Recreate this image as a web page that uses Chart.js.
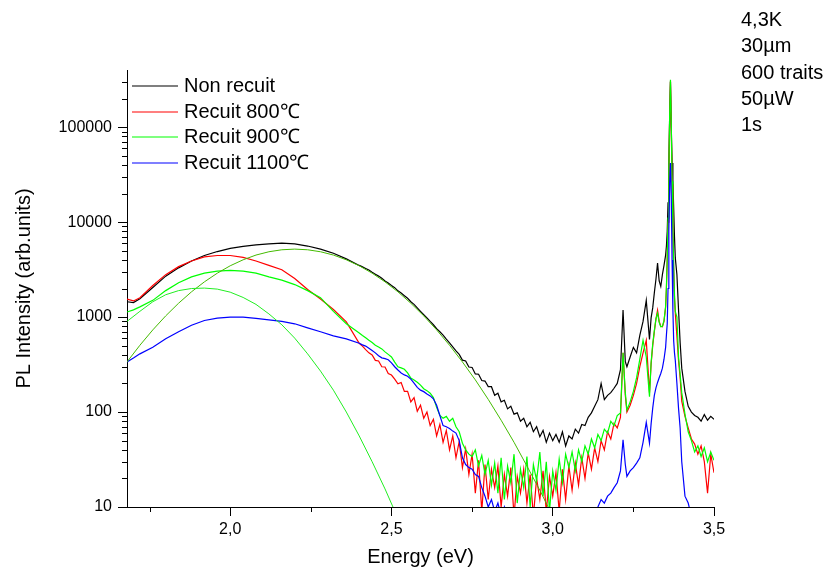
<!DOCTYPE html>
<html>
<head>
<meta charset="utf-8">
<title>PL spectra</title>
<script src="https://cdn.jsdelivr.net/npm/chart.js@4.4.1/dist/chart.umd.min.js"></script>
<style>
  html, body { margin: 0; padding: 0; background: #fff; }
  #wrap { width: 831px; height: 571px; position: relative; }
</style>
</head>
<body>
<div id="wrap"><canvas id="plChart"></canvas></div>
<script>
// photon energy grid (eV), shared by the four measured spectra
const energy = [
  1.68, 1.70, 1.72, 1.76, 1.80, 1.84, 1.88, 1.92, 1.96, 2.00,
  2.04, 2.08, 2.12, 2.16, 2.20, 2.24, 2.28, 2.32, 2.36, 2.40,
  2.41, 2.42, 2.43, 2.44, 2.45, 2.46, 2.47, 2.48, 2.49, 2.50,
  2.51, 2.52, 2.53, 2.54, 2.55, 2.56, 2.57, 2.58, 2.59, 2.60,
  2.61, 2.62, 2.63, 2.64, 2.65, 2.66, 2.67, 2.68, 2.69, 2.70,
  2.71, 2.72, 2.73, 2.74, 2.75, 2.76, 2.77, 2.78, 2.79, 2.80,
  2.81, 2.82, 2.83, 2.84, 2.85, 2.86, 2.87, 2.88, 2.89, 2.90,
  2.91, 2.92, 2.93, 2.94, 2.95, 2.96, 2.97, 2.98, 2.99, 3.00,
  3.01, 3.02, 3.03, 3.04, 3.05, 3.06, 3.07, 3.08, 3.09, 3.10,
  3.11, 3.12, 3.13, 3.14, 3.15, 3.16, 3.17, 3.18, 3.19, 3.20,
  3.21, 3.218, 3.225, 3.23, 3.24, 3.25, 3.26, 3.27, 3.28, 3.29, 3.30,
  3.305, 3.31, 3.315, 3.32, 3.325, 3.33, 3.335, 3.34, 3.345, 3.35,
  3.3525, 3.355, 3.3575, 3.36, 3.3625, 3.365, 3.3675, 3.37, 3.3725, 3.375, 3.3775, 3.38,
  3.385, 3.39, 3.395, 3.40,
  3.41, 3.42, 3.43, 3.44, 3.45, 3.46, 3.47, 3.48, 3.49, 3.50
];

const nonRecuit = [
  1450, 1420, 1560, 2050, 2700, 3300, 3900, 4450, 4900, 5300,
  5550, 5750, 5900, 6000, 5900, 5600, 5200, 4700, 4100, 3500,
  3380, 3250, 3130, 2960, 2830, 2700, 2560, 2400, 2290, 2150,
  2040, 1890, 1790, 1680, 1580, 1450, 1360, 1250, 1150, 1060,
  980, 900, 830, 755, 700, 645, 585, 535, 485, 440,
  405, 352, 345, 298, 295, 252, 250, 215, 212, 185,
  185, 150, 158, 128, 133, 108, 115, 95, 98, 80,
  86, 70, 78, 62, 70, 55, 64, 48, 60, 50,
  58, 48, 62, 44, 56, 52, 66, 60, 74, 72,
  88, 98, 115, 135, 200, 135, 150, 160, 178, 200,
  280, 1190, 340, 300, 380, 480, 420, 640, 900, 1500, 580,
  980, 1250, 1800, 2500, 3700, 2400, 2100, 2800, 3500, 4500,
  5600, 8000, 16000, 40000, 130000, 300000, 100000, 42000, 28000, 14000, 7000, 4200,
  2800, 1200, 540, 290,
  165, 115, 100, 92, 88, 80, 94, 82, 90, 84
];

const recuit800 = [
  1550, 1480, 1600, 2150, 2800, 3400, 3900, 4300, 4450, 4450,
  4250, 3900, 3500, 3150, 2550, 1950, 1550, 1200, 890, 530,
  495, 455, 420, 400, 350, 345, 300, 298, 255, 245,
  222, 198, 205, 165, 165, 128, 142, 102, 118, 86,
  100, 72, 84, 56, 74, 48, 64, 40, 56, 33,
  49, 26, 41, 22, 36, 14, 31, 9, 28, 12,
  25, 16, 27, 10, 22, 13, 26, 8, 21, 14,
  25, 11, 22, 8, 20, 12, 24, 9, 21, 13,
  23, 9, 25, 12, 27, 15, 29, 17, 33, 20,
  37, 25, 42, 30, 50, 40, 62, 52, 76, 68,
  88, 420, 150, 100, 118, 150, 200, 300, 420, 570, 160,
  320, 500, 700, 950, 1180, 900, 800, 790, 900, 1270,
  2000, 4000, 10000, 32000, 126000, 305000, 100000, 25000, 8000, 3200, 1600, 1100,
  630, 350, 230, 130,
  90, 68, 52, 46, 36, 44, 30, 14, 36, 23
];

const recuit900 = [
  1130, 1190, 1280, 1500, 1900, 2300, 2650, 2900, 3050, 3100,
  3050, 2900, 2650, 2450, 2200, 1900, 1600, 1150, 850, 680,
  640, 605, 570, 540, 505, 485, 462, 430, 405, 380,
  335, 300, 292, 282, 258, 228, 218, 206, 192, 176,
  168, 158, 142, 112, 92, 86, 90, 80, 86, 70,
  62, 47, 40, 36, 34, 40, 27, 35, 22, 31,
  17, 29, 14, 33, 12, 27, 18, 36, 11, 25,
  16, 34, 10, 28, 19, 38, 13, 30, 9, 24,
  15, 32, 18, 36, 26, 38, 24, 40, 30, 44,
  36, 52, 42, 58, 50, 66, 60, 80, 72, 92,
  98, 420, 160, 105, 128, 165, 230, 360, 570, 380, 145,
  330, 520, 720, 960, 1100, 880, 790, 800, 920, 1300,
  2100, 4200, 11000, 35000, 135000, 315000, 110000, 27000, 8500, 3400, 1700, 1150,
  1000, 380, 250, 160,
  95, 62, 50, 38, 44, 34, 42, 30, 38, 31
];

const recuit1100 = [
  336, 370, 410, 480, 590, 700, 820, 920, 975, 1000,
  1000, 970, 935, 900, 850, 770, 700, 635, 590, 530,
  510, 495, 470, 445, 420, 392, 372, 365, 355, 330,
  300, 277, 258, 246, 238, 222, 202, 182, 170, 164,
  155, 148, 138, 118, 92, 72, 70, 67, 63, 60,
  50, 33, 28, 26, 25, 22, 21, 16, 13, 10,
  12, 9, 11, 8, 10, 7, 6, 5, 5, 5,
  5, 5, 5, 5, 5, 5, 5, 5, 5, 5,
  5, 5, 5, 5, 5, 5, 5, 5, 5, 5,
  5, 6, 8, 10, 12, 11, 13, 14, 16, 18,
  24, 51, 28, 21, 24, 26, 29, 33, 48, 78, 47,
  75, 110, 150, 180, 205, 230, 255, 290, 360, 480,
  650, 850, 2000, 8000, 26000, 42000, 18000, 4000, 1200, 560, 420, 350,
  200, 110, 68, 30,
  13, 11, 8, 7, 6, 5, 5, 5, 6, 5
];

// Gaussian fit components (thin green curves)
const fitLowEnergy = [
  1.68, 1.72, 1.76, 1.80, 1.84, 1.88, 1.92, 1.96, 2.00, 2.04, 2.08,
  2.12, 2.16, 2.20, 2.24, 2.28, 2.32, 2.36, 2.40, 2.44, 2.48, 2.52
];
const fitLowValues = [
  900, 1150, 1450, 1720, 1900, 2000, 2020, 1970, 1830, 1610, 1360,
  1080, 830, 600, 410, 270, 170, 100, 56, 30, 15.5, 7.6
];
const fitHighEnergy = [
  1.68, 1.72, 1.76, 1.80, 1.84, 1.88, 1.92, 1.96, 2.00, 2.04, 2.08,
  2.12, 2.16, 2.20, 2.24, 2.28, 2.32, 2.36, 2.40, 2.44, 2.48, 2.52,
  2.56, 2.60, 2.64, 2.68, 2.72, 2.76, 2.80, 2.84, 2.88, 2.92, 2.96, 3.00
];
const fitHighValues = [
  337, 505, 733, 1030, 1400, 1845, 2350, 2900, 3470, 4010, 4500,
  4875, 5115, 5200, 5115, 4875, 4500, 4010, 3470, 2900, 2350, 1845,
  1400, 1030, 733, 505, 337, 218, 136, 82, 48, 27, 15, 8
];

const xMajorTicks = [2.0, 2.5, 3.0, 3.5];
const xMinorTicks = [1.75, 2.25, 2.75, 3.25];
const yMajorTicks = [10, 100, 1000, 10000, 100000];
const yMinorTicks = [
  20, 30, 40, 50, 60, 70, 80, 90,
  200, 300, 400, 500, 600, 700, 800, 900,
  2000, 3000, 4000, 5000, 6000, 7000, 8000, 9000,
  20000, 30000, 40000, 50000, 60000, 70000, 80000, 90000,
  200000, 300000
];
const notes = ['4,3K', '30µm', '600 traits', '50µW', '1s'];

const FONT = '"Liberation Sans", Arial, sans-serif';

function points(xs, ys) {
  return xs.map((x, i) => ({ x: x, y: ys[i] }));
}

// minor ticks, in-plot legend and the measurement notes
const decorPlugin = {
  id: 'decor',
  afterDraw(chart) {
    const { ctx, chartArea, scales } = chart;
    ctx.save();
    ctx.strokeStyle = '#000';
    ctx.lineWidth = 1;
    ctx.beginPath();
    xMinorTicks.forEach(v => {
      const px = Math.round(scales.x.getPixelForValue(v)) + 0.5;
      ctx.moveTo(px, chartArea.bottom);
      ctx.lineTo(px, chartArea.bottom + 5);
    });
    yMinorTicks.forEach(v => {
      const py = Math.round(scales.y.getPixelForValue(v)) + 0.5;
      ctx.moveTo(chartArea.left - 5, py);
      ctx.lineTo(chartArea.left, py);
    });
    ctx.stroke();

    // legend
    ctx.font = '20px ' + FONT;
    ctx.textBaseline = 'middle';
    ctx.textAlign = 'left';
    const shown = chart.data.datasets.filter(d => d.inLegend);
    shown.forEach((d, i) => {
      const yy = Math.round(chartArea.top + 16 + i * 25.5);
      ctx.strokeStyle = d.borderColor;
      ctx.lineWidth = 1.2;
      ctx.beginPath();
      ctx.moveTo(chartArea.left + 5, yy);
      ctx.lineTo(chartArea.left + 51, yy);
      ctx.stroke();
      ctx.fillStyle = '#000';
      ctx.fillText(d.label, chartArea.left + 57, yy);
    });

    // notes at top right
    ctx.textBaseline = 'alphabetic';
    notes.forEach((t, i) => {
      ctx.fillText(t, 741, 26 + i * 26.3);
    });
    ctx.restore();
  }
};

new Chart(document.getElementById('plChart'), {
  type: 'line',
  data: {
    datasets: [
      { label: 'Non recuit', data: points(energy, nonRecuit), borderColor: '#000000', borderWidth: 1.2, order: 4, inLegend: true },
      { label: 'Recuit 800℃', data: points(energy, recuit800), borderColor: '#ff0000', borderWidth: 1.2, order: 3, inLegend: true },
      { label: 'Recuit 900℃', data: points(energy, recuit900), borderColor: '#00ff00', borderWidth: 1.2, order: 2, inLegend: true },
      { label: 'Recuit 1100℃', data: points(energy, recuit1100), borderColor: '#0000ff', borderWidth: 1.2, order: 1, inLegend: true },
      { label: 'fit 1', data: points(fitLowEnergy, fitLowValues), borderColor: '#22ee22', borderWidth: 1, order: 0, inLegend: false },
      { label: 'fit 2', data: points(fitHighEnergy, fitHighValues), borderColor: '#44bb00', borderWidth: 1, order: 0, inLegend: false }
    ]
  },
  options: {
    responsive: true,
    maintainAspectRatio: false,
    animation: false,
    parsing: false,
    elements: {
      point: { radius: 0 },
      line: { tension: 0, fill: false }
    },
    layout: { padding: { top: 70, right: 117, left: 0, bottom: 0 } },
    plugins: {
      legend: { display: false },
      tooltip: { enabled: false }
    },
    scales: {
      x: {
        type: 'linear',
        min: 1.68,
        max: 3.5,
        afterBuildTicks: s => { s.ticks = xMajorTicks.map(v => ({ value: v })); },
        afterFit: s => { s.height = 64; },
        ticks: {
          autoSkip: false,
          maxRotation: 0,
          padding: 4,
          color: '#000',
          font: { family: FONT, size: 16 },
          callback: v => Number(v).toFixed(1).replace('.', ',')
        },
        grid: { drawOnChartArea: false, tickLength: 9, tickColor: '#000' },
        border: { display: true, color: '#000', width: 1 },
        title: {
          display: true,
          text: 'Energy (eV)',
          color: '#000',
          font: { family: FONT, size: 20 },
          padding: { top: 0, bottom: 2 }
        }
      },
      y: {
        type: 'logarithmic',
        min: 10,
        max: 400000,
        afterBuildTicks: s => { s.ticks = yMajorTicks.map(v => ({ value: v })); },
        afterFit: s => { s.width = 127; },
        ticks: {
          autoSkip: false,
          padding: 6,
          color: '#000',
          font: { family: FONT, size: 16 },
          callback: v => String(v)
        },
        grid: { drawOnChartArea: false, tickLength: 9, tickColor: '#000' },
        border: { display: true, color: '#000', width: 1 },
        title: {
          display: true,
          text: 'PL Intensity (arb.units)',
          color: '#000',
          font: { family: FONT, size: 20 },
          padding: { top: 12, bottom: 0 }
        }
      }
    }
  },
  plugins: [decorPlugin]
});
</script>
</body>
</html>
